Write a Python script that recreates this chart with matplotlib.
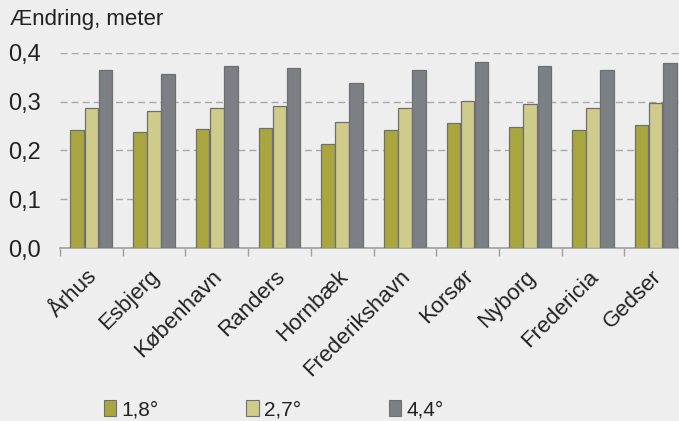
import numpy as np
import matplotlib.pyplot as plt
import matplotlib.transforms as mtrans
from matplotlib.patches import Patch

plt.rcParams['font.family'] = ['Liberation Sans', 'DejaVu Sans']

# data
cities = ['Århus', 'Esbjerg', 'København', 'Randers', 'Hornbæk',
          'Frederikshavn', 'Korsør', 'Nyborg', 'Fredericia', 'Gedser']
s18 = [0.242, 0.238, 0.244, 0.246, 0.214, 0.241, 0.256, 0.248, 0.242, 0.251]
s27 = [0.286, 0.281, 0.287, 0.290, 0.258, 0.286, 0.302, 0.294, 0.286, 0.296]
s44 = [0.365, 0.357, 0.373, 0.369, 0.338, 0.365, 0.381, 0.373, 0.365, 0.379]
labels = ['1,8°', '2,7°', '4,4°']
colors = ['#a9a53f', '#cecb8b', '#7c7f84']

bg = '#eeeeee'
fig = plt.figure(figsize=(6.79, 4.21), dpi=100, facecolor=bg)
ax = fig.add_axes([60 / 679, 1 - 248 / 421, 627 / 679, (248 - 52.7) / 421])
ax.set_facecolor(bg)

x = np.arange(len(cities))
w = 0.225
for i, (vals, c) in enumerate(zip([s18, s27, s44], colors)):
    ax.bar(x + (i - 1) * w, vals, w * 0.96, color=c, edgecolor='#6e6f70',
           linewidth=0.9, zorder=3)

ax.set_xlim(-0.5, len(cities) - 0.5)
ax.set_ylim(0, 0.4)
ax.set_yticks([0, 0.1, 0.2, 0.3, 0.4])
ax.set_yticklabels(['0,0', '0,1', '0,2', '0,3', '0,4'], fontsize=17, color='#222222')
ax.tick_params(axis='y', length=0, pad=13.5)
ax.yaxis.grid(True, color='#a8a8a8', linestyle=(0, (5, 3)), linewidth=1.0, zorder=0)

ax.set_xticks(np.arange(-0.5, len(cities), 1))
ax.set_xticklabels([])
ax.tick_params(axis='x', length=6, color='#a0a0a0', width=1)
ax.set_xticks(x, minor=True)
ax.set_xticklabels(cities, minor=True, rotation=45, ha='right',
                   rotation_mode='anchor', fontsize=16, color='#222222')
ax.tick_params(axis='x', which='minor', length=0, pad=13)
shift = mtrans.ScaledTranslation(-5 / 100, 0, fig.dpi_scale_trans)
for lab in ax.get_xticklabels(minor=True):
    lab.set_transform(lab.get_transform() + shift)

for s in ['top', 'right', 'left']:
    ax.spines[s].set_visible(False)
ax.spines['bottom'].set_color('#a0a0a0')
ax.spines['bottom'].set_linewidth(1.2)

fig.text(10 / 679, 1 - 20 / 421, 'Ændring, meter', fontsize=16, color='#222222',
         va='center', ha='left')

handles = [Patch(facecolor=c, edgecolor='#6e6f70', linewidth=0.8) for c in colors]
fig.legend(handles, labels, loc='center left', bbox_to_anchor=(85 / 679, 0.026),
           ncol=3, frameon=False, fontsize=15, handlelength=0.6, handleheight=0.8,
           handletextpad=0.25, columnspacing=4.2, labelcolor='#222222')

fig.savefig('out.png', dpi=100, facecolor=bg)
